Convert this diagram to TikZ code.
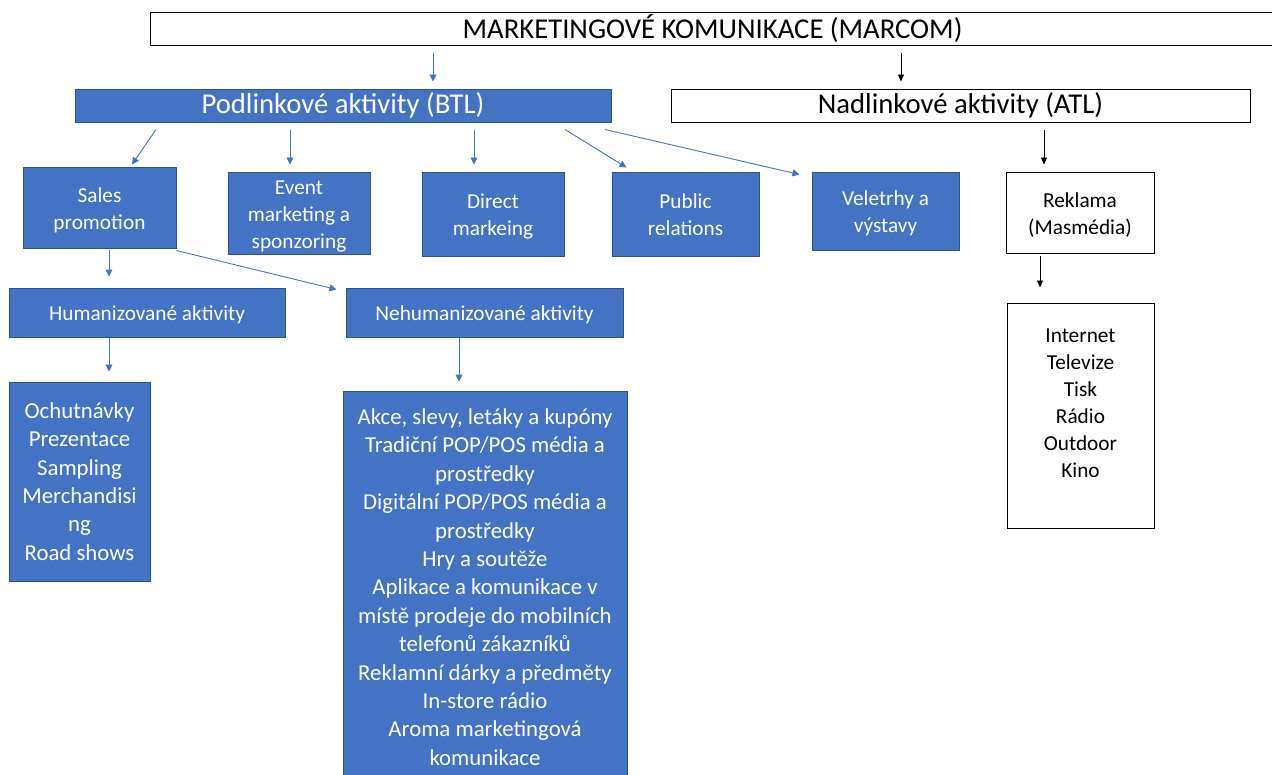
\documentclass[tikz,border=0pt]{standalone}
\usepackage{fontspec}
\setmainfont{Carlito}
\usetikzlibrary{arrows.meta,calc}
\definecolor{obl}{HTML}{4472C4}
\definecolor{obd}{HTML}{2F528F}
\newcommand\myTitleFont{\fontsize{28.7}{34}\selectfont}
\newcommand\myMidFont{\fontsize{21.3}{27}\selectfont}
\newcommand\myListFont{\fontsize{22.8}{28.4}\selectfont}
\newcommand\myTop{\rule{0pt}{22pt}}
\newcommand\myBot{\rule[-6pt]{0pt}{6pt}}
\begin{document}
\begin{tikzpicture}[x=1pt,y=-1pt,
  bluebox/.style={draw=obd,fill=obl,text=white,line width=1pt,inner sep=0pt,align=center},
  whitebox/.style={draw=black,fill=white,text=black,line width=1pt,inner sep=0pt,align=center},
  sz/.style 2 args={minimum width=#1pt,minimum height=#2pt},
  barrow/.style={draw=obl,line width=0.9pt,-{Triangle[width=7pt,length=7pt]}},
  karrow/.style={draw=black,line width=0.9pt,-{Triangle[width=6pt,length=7pt]}}]
\useasboundingbox (0,0) rectangle (1272,774);

% nodes
\node[whitebox,sz={1125}{33},font=\myTitleFont] (title) at (712.5,28.5) {MARKETINGOVÉ KOMUNIKACE (MARCOM)};
\node[bluebox,sz={536}{33},font=\myTitleFont] (btl) at (343,105.5) {Podlinkové aktivity (BTL)};
\node[whitebox,sz={579}{33},font=\myTitleFont] (atl) at (960.5,105.5) {Nadlinkové aktivity (ATL)};

\node[bluebox,sz={153}{81},font=\myMidFont] (sales) at (99.5,207.5) {\myTop Sales\\promotion\myBot};
\node[bluebox,sz={142}{82},font=\myMidFont] (event) at (299,213) {\myTop Event\\marketing a\\sponzoring\myBot};
\node[bluebox,sz={142}{84},font=\myMidFont] (direct) at (493,214) {\myTop Direct\\markeing\myBot};
\node[bluebox,sz={147}{84},font=\myMidFont] (public) at (685.5,214) {\myTop Public\\relations\myBot};
\node[bluebox,sz={147}{78},font=\myMidFont] (vel) at (885.5,211) {\myTop Veletrhy a\\výstavy\myBot};
\node[whitebox,sz={148}{81},font=\myMidFont] (rek) at (1080,212.5) {\myTop Reklama\\(Masmédia)\myBot};
\node[whitebox,sz={147}{225},font=\myMidFont] (media) at (1080.5,415.5) {\myTop Internet\\Televize\\Tisk\\Rádio\\Outdoor\\Kino\\ \myBot};

\node[bluebox,sz={276}{49},font=\myMidFont] (human) at (147,312.5) {\myTop Humanizované aktivity\myBot};
\node[bluebox,sz={277}{49},font=\myMidFont] (nehuman) at (484.5,312.5) {\myTop Nehumanizované aktivity\myBot};

\node[bluebox,sz={141}{199},font=\myListFont] (ochut) at (79.5,481.5) {Ochutnávky\\Prezentace\\Sampling\\Merchandisi\\ng\\Road shows};
\node[bluebox,sz={284}{392},font=\myListFont] (list) at (485,587) {Akce, slevy, letáky a kupóny\\Tradiční POP/POS média a\\prostředky\\Digitální POP/POS média a\\prostředky\\Hry a soutěže\\Aplikace a komunikace v\\místě prodeje do mobilních\\telefonů zákazníků\\Reklamní dárky a předměty\\In-store rádio\\Aroma marketingová\\komunikace};

% connectors
\draw[barrow] ($(title.south -| 433,0)+(0,7)$) -- ($(btl.north -| 433,0)+(0,-7)$);
\draw[karrow] ($(title.south -| 901,0)+(0,7)$) -- ($(atl.north -| 901,0)+(0,-7)$);

\draw[barrow] ($(btl.south -| 156,0)+(0,7)$) -- ($(sales.north -| 132,0)+(0,-2)$);
\draw[barrow] ($(btl.south -| 290,0)+(0,7)$) -- ($(event.north -| 290,0)+(0,-7)$);
\draw[barrow] ($(btl.south -| 474,0)+(0,7)$) -- ($(direct.north -| 474,0)+(0,-7)$);
\draw[barrow] ($(btl.south -| 565,0)+(0,7)$) -- ($(public.north west)+(15,-4)$);
\draw[barrow] ($(btl.south -| 605,0)+(0,7)$) -- ($(vel.north west)+(-12,3)$);

\draw[karrow] ($(atl.south -| 1044,0)+(0,7)$) -- ($(rek.north -| 1044,0)+(0,-7)$);
\draw[karrow] ($(rek.south -| 1040,0)+(0,2)$) -- ($(media.north -| 1040,0)+(0,-15)$);

\draw[barrow] ($(sales.south -| 109,0)+(0,1)$) -- ($(human.north -| 109,0)+(0,-11)$);
\draw[barrow] ($(sales.south east)+(0,2)$) -- ($(nehuman.north west)+(-9,2)$);
\draw[barrow] (human.south -| 109,0) -- ($(ochut.north -| 109,0)+(0,-10)$);
\draw[barrow] (nehuman.south -| 459,0) -- ($(list.north -| 459,0)+(0,-9)$);
\end{tikzpicture}
\end{document}
